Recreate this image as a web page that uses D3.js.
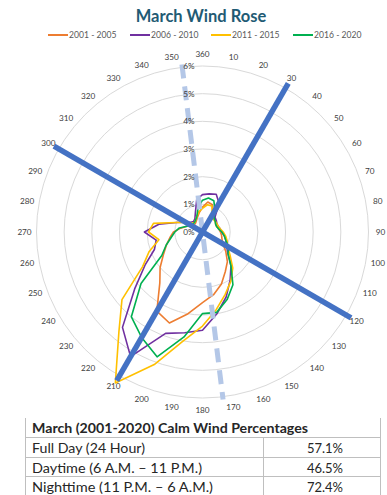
<!DOCTYPE html>
<html><head><meta charset="utf-8">
<script src="https://cdn.jsdelivr.net/npm/d3@7"></script>
<style>
html,body{margin:0;padding:0;background:#fff;}
svg{display:block;font-family:Lato,"Open Sans",sans-serif;}
</style></head>
<body><svg id="c" width="387" height="495"></svg>
<script>
// ---- data ----
const title = "March Wind Rose";
const directions = [10,20,30,40,50,60,70,80,90,100,110,120,130,140,150,160,170,180,190,200,210,220,230,240,250,260,270,280,290,300,310,320,330,340,350,360];
const seriesNames = ["2001 - 2005","2006 - 2010","2011 - 2015","2016 - 2020"];
const seriesColors = ["#ED7D31","#7030A0","#FFC000","#00B050"];
const s2001_2005 = [1.1,1.05,0.75,0.65,0.6,0.55,0.55,0.6,0.65,0.7,0.75,0.85,1.1,1.4,1.65,2.0,2.3,2.55,3.0,3.5,3.3,2.4,2.0,1.63,1.39,1.2,1.05,0.8,0.6,0.45,0.4,0.4,0.45,0.55,0.7,0.9];
const s2006_2010 = [1.4,1.45,1.2,0.7,0.65,0.6,0.6,0.65,0.7,0.8,0.9,1.0,1.2,1.6,2.0,2.5,3.0,3.55,3.7,3.9,5.2,4.5,3.2,2.4,1.85,1.7,2.1,1.6,1.0,0.7,0.55,0.5,0.55,0.75,1.2,1.35];
const s2011_2015 = [1.0,1.0,0.7,0.6,0.6,0.6,0.6,0.65,0.75,0.85,0.95,1.05,1.3,1.7,2.05,2.4,2.85,3.4,4.0,5.1,6.3,4.7,3.8,2.5,2.05,1.6,1.95,1.8,1.0,0.7,0.5,0.45,0.5,0.6,0.75,0.85];
const s2016_2020 = [1.25,1.2,0.9,0.65,0.6,0.55,0.55,0.6,0.7,0.8,0.9,1.1,1.2,1.6,2.2,2.6,2.95,2.95,3.85,4.8,4.4,4.0,2.9,1.7,1.4,1.15,1.0,0.85,0.6,0.5,0.45,0.45,0.5,0.6,0.9,1.15];
const seriesValues = [s2001_2005, s2006_2010, s2011_2015, s2016_2020];
const radialTicks = [0,1,2,3,4,5,6];
const radialTickLabels = ["0%","1%","2%","3%","4%","5%","6%"];
const axisLineDirs = [30,300];           // thick blue lines (through centre)
const axisLineLen = [6.2,6.2];
const dashedLineDir = [353];             // dashed light blue line
const dashedLineLen = [6.1];
const tableTitle = "March (2001-2020) Calm Wind Percentages";
const tableRows = ["Full Day (24 Hour)","Daytime (6 A.M. \u2013 11 P.M.)","Nighttime (11 P.M. \u2013 6 A.M.)"];
const tableValues = ["57.1%","46.5%","72.4%"];

// ---- layout ----
const svg = d3.select("#c");
const cx = 202.5, cy = 232;
const r = d3.scaleLinear().domain([0,6]).range([0,166]);
const rad = d => d*Math.PI/180;
const g = svg.append("g").attr("transform",`translate(${cx},${cy})`);

// title
svg.append("text").attr("x",201).attr("y",16).attr("text-anchor","middle")
  .attr("dominant-baseline","central").attr("font-size",16.5).attr("font-weight","bold")
  .attr("fill","#1F5B74").text(title);

// legend
const legX = [48,130,211,293];
seriesNames.forEach((n,i)=>{
  const lg = svg.append("g").attr("transform",`translate(${legX[i]},35)`);
  lg.append("line").attr("x1",0).attr("x2",20).attr("y1",0).attr("y2",0)
    .attr("stroke",seriesColors[i]).attr("stroke-width",2);
  lg.append("text").attr("x",21).attr("y",0).attr("dominant-baseline","central")
    .attr("font-size",8.6).attr("fill","#595959").text(n);
});

// grid rings
g.selectAll("circle.ring").data(radialTicks.filter(d=>d>0)).enter().append("circle")
  .attr("r",d=>r(d)).attr("fill","none").attr("stroke","#D9D9D9").attr("stroke-width",1);

// angle labels
g.selectAll("text.ang").data(directions).enter().append("text")
  .attr("x",d=>178*Math.sin(rad(d))).attr("y",d=>-178*Math.cos(rad(d)))
  .attr("text-anchor","middle").attr("dominant-baseline","central")
  .attr("font-size",8.2).attr("fill","#404040").text(d=>d);

// series
const line = d3.lineRadial().angle((d,i)=>rad(directions[i])).radius(d=>r(d)).curve(d3.curveLinearClosed);
seriesValues.forEach((vals,i)=>{
  g.append("path").attr("d",line(vals)).attr("fill","none")
   .attr("stroke",seriesColors[i]).attr("stroke-width",1.6).attr("stroke-linejoin","round");
});

// dashed line
dashedLineDir.forEach((a,i)=>{
  const L=r(dashedLineLen[i]);
  g.append("line").attr("x1",L*Math.sin(rad(a))).attr("y1",-L*Math.cos(rad(a)))
   .attr("x2",-L*Math.sin(rad(a))).attr("y2",L*Math.cos(rad(a)))
   .attr("stroke","#B4C7E7").attr("stroke-width",5).attr("stroke-dasharray","14,8");
});

// thick blue lines
axisLineDirs.forEach((a,i)=>{
  const L=r(axisLineLen[i]);
  g.append("line").attr("x1",L*Math.sin(rad(a))).attr("y1",-L*Math.cos(rad(a)))
   .attr("x2",-L*Math.sin(rad(a))).attr("y2",L*Math.cos(rad(a)))
   .attr("stroke","#4472C4").attr("stroke-width",5.5);
});

// radial tick labels
g.selectAll("text.rt").data(radialTicks).enter().append("text")
  .attr("x",-8).attr("y",d=>-r(d)).attr("text-anchor","end").attr("dominant-baseline","central")
  .attr("font-size",8.2).attr("fill","#404040").text((d,i)=>radialTickLabels[i]);

// table
const tl = 25, tr = 380, tdiv = 263, rowY = [437,457,476,495];
const tg = svg.append("g");
const lc = "#BFBFBF";
tg.append("line").attr("x1",tl+0.5).attr("x2",tl+0.5).attr("y1",418).attr("y2",495).attr("stroke",lc);
tg.append("line").attr("x1",tr+0.5).attr("x2",tr+0.5).attr("y1",418).attr("y2",495).attr("stroke",lc);
tg.append("line").attr("x1",tdiv+0.5).attr("x2",tdiv+0.5).attr("y1",rowY[0]).attr("y2",495).attr("stroke",lc);
rowY.slice(0,3).forEach(y=>tg.append("line").attr("x1",tl).attr("x2",tr+1).attr("y1",y+0.5).attr("y2",y+0.5).attr("stroke",lc));
tg.append("text").attr("x",32).attr("y",428).attr("dominant-baseline","central")
  .attr("font-size",13).attr("font-weight","bold").attr("fill","#262626")
  .attr("textLength",276).attr("lengthAdjust","spacingAndGlyphs").text(tableTitle);
const rowW=[113,170,181];
tableRows.forEach((t,i)=>{
  const yc=(rowY[i]+rowY[i+1])/2+1;
  tg.append("text").attr("x",32).attr("y",yc).attr("dominant-baseline","central")
    .attr("font-size",13).attr("fill","#262626")
    .attr("textLength",rowW[i]).attr("lengthAdjust","spacingAndGlyphs").text(t);
  tg.append("text").attr("x",343).attr("y",yc).attr("text-anchor","end").attr("dominant-baseline","central")
    .attr("font-size",13).attr("fill","#262626").text(tableValues[i]);
});
</script></body></html>
